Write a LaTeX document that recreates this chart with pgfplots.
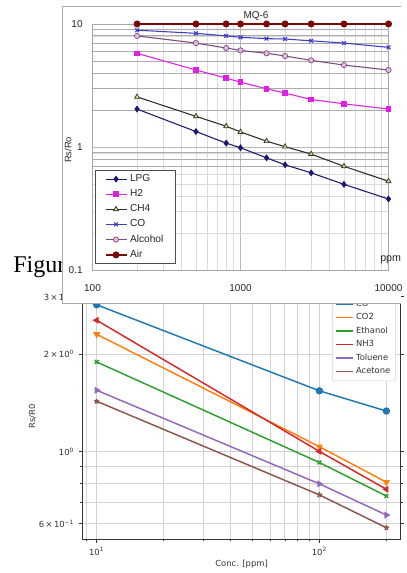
\documentclass[border=0pt]{standalone}
\usepackage{pgfplots}
\pgfplotsset{compat=1.18}
\usepackage{fontspec}
\setmainfont{Liberation Sans}
\newfontfamily\dejavu{DejaVu Sans}
\newfontfamily\timesf{Liberation Serif}
\usetikzlibrary{plotmarks}
\definecolor{tabblue}{HTML}{1F77B4}
\definecolor{taborange}{HTML}{FF7F0E}
\definecolor{tabgreen}{HTML}{2CA02C}
\definecolor{tabred}{HTML}{D62728}
\definecolor{tabpurple}{HTML}{9467BD}
\definecolor{tabbrown}{HTML}{8C564B}
\definecolor{lpg}{HTML}{1A1A70}
\definecolor{htwo}{HTML}{E020E0}
\definecolor{chfour}{HTML}{2E2E22}
\definecolor{chfill}{HTML}{D6D690}
\definecolor{co}{HTML}{3C3CC8}
\definecolor{alc}{HTML}{7A4A7A}
\definecolor{alcfill}{HTML}{E4B8E4}
\definecolor{air}{HTML}{7A0A0A}
\begin{document}
\begin{tikzpicture}
\path (0pt,0pt) rectangle (300.75pt,429.75pt);
% ---------------- bottom (matplotlib style) chart ----------------
\begin{axis}[
  at={(61.65pt,25.275pt)}, anchor=south west,
  scale only axis, width=239.0pt, height=184.3pt,
  xmode=log, ymode=log,
  xmin=8.61, xmax=232.3, ymin=0.537, ymax=3.07,
  xtick={10,100}, xticklabels={10\textsuperscript{1},10\textsuperscript{2}},
  minor xtick={9,20,30,40,50,60,70,80,90,200},
  ytick={0.6,1,2,3},
  yticklabels={6\,×\,10\textsuperscript{−1},10\textsuperscript{0},2\,×\,10\textsuperscript{0},3\,×\,10\textsuperscript{0}},
  minor ytick={0.7,0.8,0.9},
  grid=both,
  major grid style={gray!35, line width=0.6pt},
  minor grid style={gray!35, line width=0.6pt},
  tick align=outside, major tick length=2.6pt, minor tick length=1.5pt,
  tick style={black!80, line width=0.5pt},
  axis line style={black!80, line width=0.6pt},
  ticklabel style={font=\dejavu\fontsize{6.3}{7}\selectfont, text=black!80},
  xlabel={Conc. [ppm]}, ylabel={Rs/R0},
  every axis x label/.style={at={(axis description cs:0.5,-0.1005)}, anchor=center, font=\dejavu\fontsize{6.3}{7}\selectfont, text=black!80},
  every axis y label/.style={at={(axis description cs:-0.1566,0.5)}, anchor=center, rotate=90, font=\dejavu\fontsize{6.3}{7}\selectfont, text=black!80},
  legend style={at={(axis description cs:0.9846,0.644)}, anchor=south east,
     draw=gray!35, fill=white, rounded corners=1.5pt,
     font=\dejavu\fontsize{6.3}{7}\selectfont, text=black!80,
     row sep=-0.1pt, inner xsep=2pt, inner ysep=2pt},
  legend cell align=left,
  legend image code/.code={\draw[#1] (0pt,0pt) -- (12.75pt,0pt);},
]
\addplot[color=tabblue, line width=1.1pt, mark=*, mark size=2.2pt, mark options={solid}]
  coordinates {(10,2.835) (100,1.54) (200,1.334)};
\addlegendentry{CO}
\addplot[color=taborange, line width=1.1pt, mark=triangle*, mark size=2pt, mark options={solid, rotate=180}]
  coordinates {(10,2.30) (100,1.036) (200,0.805)};
\addlegendentry{CO2}
\addplot[color=tabgreen, line width=1.1pt, mark=x, mark size=2pt, mark options={solid}]
  coordinates {(10,1.89) (100,0.926) (200,0.73)};
\addlegendentry{Ethanol}
\addplot[color=tabred, line width=1.1pt, mark=triangle*, mark size=2pt, mark options={solid, rotate=90}]
  coordinates {(10,2.54) (100,1.002) (200,0.766)};
\addlegendentry{NH3}
\addplot[color=tabpurple, line width=1.1pt, mark=triangle*, mark size=2pt, mark options={solid, rotate=-90}]
  coordinates {(10,1.546) (100,0.796) (200,0.638)};
\addlegendentry{Toluene}
\addplot[color=tabbrown, line width=1.1pt, mark=star, mark size=2pt, mark options={solid}]
  coordinates {(10,1.43) (100,0.736) (200,0.583)};
\addlegendentry{Acetone}
\end{axis}
% ---------------- text of the page behind ----------------
\node[anchor=base west, inner sep=0pt, font=\timesf\fontsize{18}{20}\selectfont] at (9.75pt,225.2pt) {Figur};
% ---------------- top (MQ-6) figure ----------------
\fill[white] (46.875pt,202.275pt) rectangle (300.75pt,424.875pt);
\draw[gray!65, line width=0.9pt] (300.75pt,202.275pt) -- (46.875pt,202.275pt) -- (46.875pt,424.875pt) -- (300.75pt,424.875pt);
\begin{axis}[
  at={(69.375pt,226.875pt)}, anchor=south west,
  scale only axis, width=222pt, height=184.9pt,
  xmode=log, ymode=log,
  xmin=100, xmax=10000, ymin=0.1, ymax=10,
  clip=false,
  xtick={100,1000,10000}, xticklabels={100,1000,10000},
  ytick={0.1,1,10}, yticklabels={0.1,1,10},
  minor xtick={200,300,400,500,600,700,800,900,2000,3000,4000,5000,6000,7000,8000,9000},
  minor ytick={0.2,0.3,0.4,0.5,0.6,0.7,0.8,0.9,2,3,4,5,6,7,8,9},
  grid=both,
  minor grid style={gray!28, line width=0.5pt},
  major grid style={gray!55, line width=0.6pt},
  extra y ticks={0.7,0.8,0.9,2,3,4,5,6,7,8,9}, extra y tick labels={},
  extra y tick style={grid=major, major grid style={gray!65, line width=0.7pt}},
  major tick length=0pt, minor tick length=0pt,
  axis line style={gray!70, line width=0.6pt},
  ticklabel style={font=\fontsize{7.5}{9}\selectfont, text=black!85},
  xticklabel style={yshift=-7.2pt},
  yticklabel style={xshift=-3.9pt},
  legend style={at={(axis description cs:0.0084,0.0264)}, anchor=south west,
     draw=gray!60!black, line width=0.6pt, fill=white,
     font=\fontsize{7.6}{8}\selectfont, text=black!85,
     row sep=0.5pt, inner xsep=7pt, inner ysep=1pt},
  legend cell align=left,
  legend image code/.code={\draw[mark repeat=2,mark phase=2,#1] plot coordinates {(0pt,0pt) (7.9pt,0pt) (15.8pt,0pt)};},
]
\addplot[color=lpg, line width=0.8pt, mark=diamond*, mark size=2pt]
  coordinates {(200,2.04) (500,1.34) (800,1.08) (1000,0.99) (1500,0.82) (2000,0.72) (3000,0.62) (5000,0.50) (10000,0.38)};
\addlegendentry{LPG}
\addplot[color=htwo, line width=0.8pt, mark=square*, mark size=1.7pt]
  coordinates {(200,5.78) (500,4.23) (800,3.64) (1000,3.37) (1500,2.98) (2000,2.75) (3000,2.44) (5000,2.25) (10000,2.04)};
\addlegendentry{H2}
\addplot[color=chfour, line width=0.8pt, mark=triangle*, mark size=2.2pt, mark options={fill=chfill, draw=chfour, line width=0.5pt}]
  coordinates {(200,2.56) (500,1.78) (800,1.48) (1000,1.33) (1500,1.12) (2000,1.01) (3000,0.88) (5000,0.70) (10000,0.53)};
\addlegendentry{CH4}
\addplot[color=co, line width=0.8pt, mark=x, mark size=2pt]
  coordinates {(200,8.9) (500,8.4) (800,8.0) (1000,7.8) (1500,7.6) (2000,7.55) (3000,7.3) (5000,7.0) (10000,6.46)};
\addlegendentry{CO}
\addplot[color=alc, line width=0.8pt, mark=*, mark size=2pt, mark options={fill=alcfill, draw=alc, line width=0.5pt}]
  coordinates {(200,8.0) (500,7.0) (800,6.38) (1000,6.1) (1500,5.78) (2000,5.5) (3000,5.07) (5000,4.64) (10000,4.23)};
\addlegendentry{Alcohol}
\addplot[color=air, line width=1.2pt, mark=*, mark size=2pt]
  coordinates {(200,10) (500,10) (800,10) (1000,10) (1500,10) (2000,10) (3000,10) (5000,10) (10000,10)};
\addlegendentry{Air}
\node[font=\fontsize{7.5}{9}\selectfont, text=black!85] at (axis description cs:0.5524,1.0325) {MQ-6};
\node[font=\fontsize{8}{9}\selectfont, text=black!85, anchor=west, inner sep=0pt] at (axis description cs:0.9713,0.0426) {ppm};
\node[font=\fontsize{7}{8}\selectfont, text=black!85, rotate=90] at (axis description cs:-0.0828,0.489) {Rs/Ro};
\end{axis}
\end{tikzpicture}
\end{document}
